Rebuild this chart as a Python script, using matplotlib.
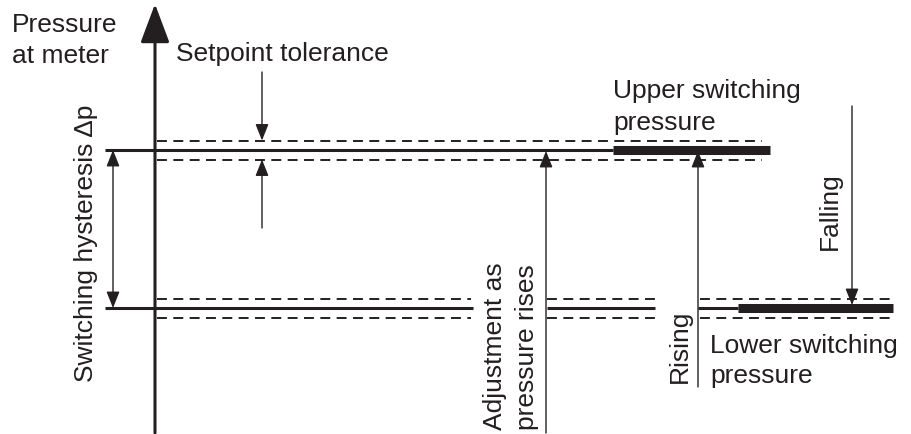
"""Switching hysteresis diagram of a pressure switch."""

import matplotlib
matplotlib.use("Agg")
import matplotlib.pyplot as plt

plt.rcParams["font.family"] = ["Liberation Sans", "DejaVu Sans"]

INK = "#231f20"

# levels (pixel rows of the source drawing, y grows downward)
upper_level = 150
lower_level = 308
tolerance = 9.5

# horizontal pieces: (x_start, x_end)
upper_solid = [(105, 613)]
upper_thick = [(613, 770)]
upper_dashed = [(157, 762)]
lower_solid = [(105, 473), (547, 655), (698, 738)]
lower_thick = [(738, 893)]
lower_dashed = [(157, 471), (547, 655), (700, 893)]

# arrows: (x, y_tail, y_tip)
setpoint_arrows = [(262, 72, upper_level - tolerance), (262, 228, upper_level + tolerance)]
rise_arrows = [(546, 433, upper_level + 1), (698, 387, upper_level + 1)]
fall_arrows = [(852, 106, lower_level - 3)]
hysteresis_x = 113

# labels: (text, x, y) anchored at the start of the baseline
flat_labels = [
    ("Pressure", 12, 32), ("at meter", 12, 63),
    ("Setpoint tolerance", 176, 61),
    ("Upper switching", 613, 98), ("pressure", 613, 130),
    ("Lower switching", 710, 353), ("pressure", 710, 383),
]
upright_labels = [
    ("Switching hysteresis Δp", 93, 382),
    ("Adjustment as", 502, 430), ("pressure rises", 534, 430),
    ("Rising", 687, 383),
    ("Falling", 837, 250),
]

fig = plt.figure(figsize=(9.11, 4.34), dpi=100)
ax = fig.add_axes([0, 0, 1, 1])
ax.set_xlim(0, 911)
ax.set_ylim(434, 0)
ax.axis("off")

head = "-|>,head_length=1.0,head_width=0.4"


def arrow(x, y0, y1, style=head, lw=1.0):
    ax.annotate("", xy=(x, y1), xytext=(x, y0),
                arrowprops=dict(arrowstyle=style, lw=lw, color=INK,
                                shrinkA=0, shrinkB=0, mutation_scale=10))


# ── vertical axis ──
arrow(155, 433, 4, style="-|>,head_length=2.4,head_width=0.9", lw=2.2)

# ── switching levels ──
for level, solids, thicks, dashes in [
    (upper_level, upper_solid, upper_thick, upper_dashed),
    (lower_level, lower_solid, lower_thick, lower_dashed),
]:
    for x0, x1 in solids:
        ax.plot([x0, x1], [level, level], color=INK, lw=2.2, solid_capstyle="butt")
    for x0, x1 in thicks:
        ax.plot([x0, x1], [level, level], color=INK, lw=6.5, solid_capstyle="butt")
    for x0, x1 in dashes:
        for off in (-tolerance, tolerance):
            ax.plot([x0, x1], [level + off, level + off], color=INK, lw=1.4,
                    linestyle=(0, (5.1, 3.3)))

# ── arrows ──
for x, y0, y1 in setpoint_arrows + rise_arrows + fall_arrows:
    arrow(x, y0, y1)

ax.annotate("", xy=(hysteresis_x, upper_level), xytext=(hysteresis_x, lower_level),
            arrowprops=dict(arrowstyle="<|-|>,head_length=1.0,head_width=0.4",
                            lw=1.0, color=INK, shrinkA=0, shrinkB=0,
                            mutation_scale=10))

# ── labels ──
fs = 19
for s, x, y in flat_labels:
    ax.text(x, y, s, fontsize=fs, color=INK, ha="left", va="baseline")
for s, x, y in upright_labels:
    ax.text(x, y, s, fontsize=fs, color=INK, rotation=90,
            rotation_mode="anchor", ha="left", va="baseline")

fig.savefig("out.png", dpi=100)
